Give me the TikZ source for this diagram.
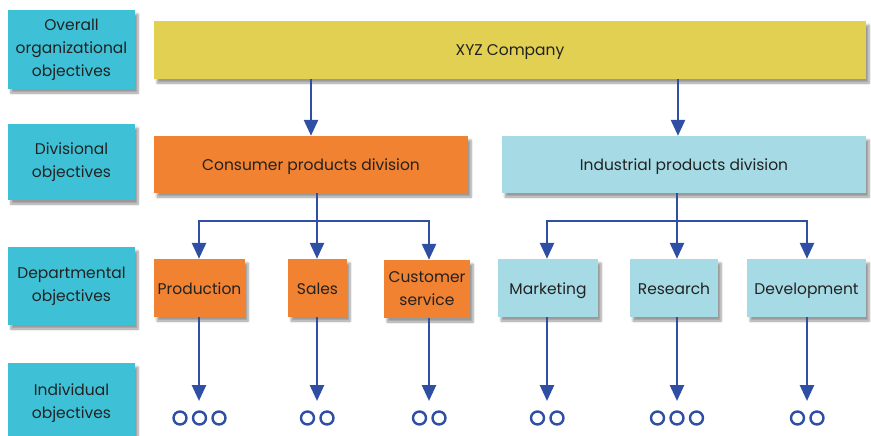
\documentclass[tikz,border=0pt]{standalone}
\usepackage{fontspec}
\setmainfont{Poppins}
\usetikzlibrary{shadows.blur,arrows.meta}
\definecolor{lbl}{HTML}{3EC1D6}
\definecolor{yel}{HTML}{E2D053}
\definecolor{org}{HTML}{F08232}
\definecolor{lbu}{HTML}{A6DBE6}
\definecolor{arr}{HTML}{2E4FA3}
\definecolor{txt}{HTML}{222222}
\begin{document}
\begin{tikzpicture}[x=1pt,y=-1pt,
  box/.style={draw=none,text=txt,font=\fontsize{15.5}{23}\selectfont,align=center,inner sep=0pt,
    blur shadow={shadow xshift=3pt,shadow yshift=-4pt,shadow blur steps=6,shadow opacity=40}},
  one/.style={text height=15pt,text depth=3pt},
  lvl/.style={box,fill=lbl},
  conn/.style={draw=arr,line width=2.7pt,-{Triangle[length=16pt,width=14pt]}},
  ln/.style={draw=arr,line width=2.7pt},
  dot/.style={circle,draw=arr,line width=2.4pt,minimum size=13pt,inner sep=0pt}]
\useasboundingbox (0,0) rectangle (871,436);
% level labels
\node[lvl,minimum width=127pt,minimum height=79pt] (l1) at (71.5,49.5) {Overall\\organizational\\objectives};
\node[lvl,minimum width=127pt,minimum height=76pt] (l2) at (71.5,162) {Divisional\\objectives};
\node[lvl,minimum width=127pt,minimum height=78pt] (l3) at (71.5,286) {Departmental\\objectives};
\node[lvl,minimum width=127pt,minimum height=80pt] (l4) at (71.5,403) {Individual\\objectives};
% company
\node[box,one,fill=yel,minimum width=712pt,minimum height=58pt] (xyz) at (510,50) {XYZ Company};
\node[box,one,fill=org,minimum width=314pt,minimum height=57pt] (cons) at (311,164.5) {Consumer products division};
\node[box,one,fill=lbu,minimum width=364pt,minimum height=57pt] (ind) at (684,164.5) {Industrial products division};
% departments
\node[box,one,fill=org,minimum width=91pt,minimum height=58pt] (prod) at (199.5,288) {Production};
\node[box,one,fill=org,minimum width=59pt,minimum height=58pt] (sales) at (317.5,288) {Sales};
\node[box,fill=org,minimum width=86pt,minimum height=58pt] (cust) at (427,289) {Customer\\service};
\node[box,one,fill=lbu,minimum width=100pt,minimum height=58pt] (mkt) at (548,288) {Marketing};
\node[box,one,fill=lbu,minimum width=88pt,minimum height=58pt] (res) at (674,288) {Research};
\node[box,one,fill=lbu,minimum width=119pt,minimum height=58pt] (dev) at (806.5,288) {Development};
% arrows from company
\draw[conn] (xyz.south -| 311,0) -- (cons.north -| 311,0);
\draw[conn] (xyz.south -| 678,0) -- (ind.north -| 678,0);
% branch coordinates
\coordinate (cb) at (317,221);
\coordinate (ib) at (677,221);
\draw[ln] (cons.south -| cb) -- (cb);
\draw[ln] (ind.south -| ib) -- (ib);
\draw[conn] (cb) -| (prod.north -| 199,0);
\draw[conn] (cb) -- (sales.north -| cb);
\draw[conn] (cb) -| (cust.north -| 429,0);
\draw[conn] (ib) -| (mkt.north -| 547,0);
\draw[conn] (ib) -- (res.north -| ib);
\draw[conn] (ib) -| (dev.north -| 807,0);
% individuals
\node[dot] (p1) at (180,418) {};
\node[dot] (p2) at (199.5,418) {};
\node[dot] (p3) at (219,418) {};
\node[dot] (s1) at (307.5,418) {};
\node[dot] (s2) at (327,418) {};
\node[dot] (c1) at (419.5,418) {};
\node[dot] (c2) at (439,418) {};
\node[dot] (m1) at (537.5,418) {};
\node[dot] (m2) at (557,418) {};
\node[dot] (r1) at (657.5,418) {};
\node[dot] (r2) at (677,418) {};
\node[dot] (r3) at (696.5,418) {};
\node[dot] (d1) at (797.5,418) {};
\node[dot] (d2) at (817,418) {};
\coordinate (pe) at (199,401);
\coordinate (se) at (317,401);
\coordinate (ce) at (429,401);
\coordinate (me) at (547,401);
\coordinate (re) at (677,401);
\coordinate (de) at (807,401);
\draw[conn] (prod.south -| pe) -- (pe);
\draw[conn] (sales.south -| se) -- (se);
\draw[conn] (cust.south -| ce) -- (ce);
\draw[conn] (mkt.south -| me) -- (me);
\draw[conn] (res.south -| re) -- (re);
\draw[conn] (dev.south -| de) -- (de);
\end{tikzpicture}
\end{document}
